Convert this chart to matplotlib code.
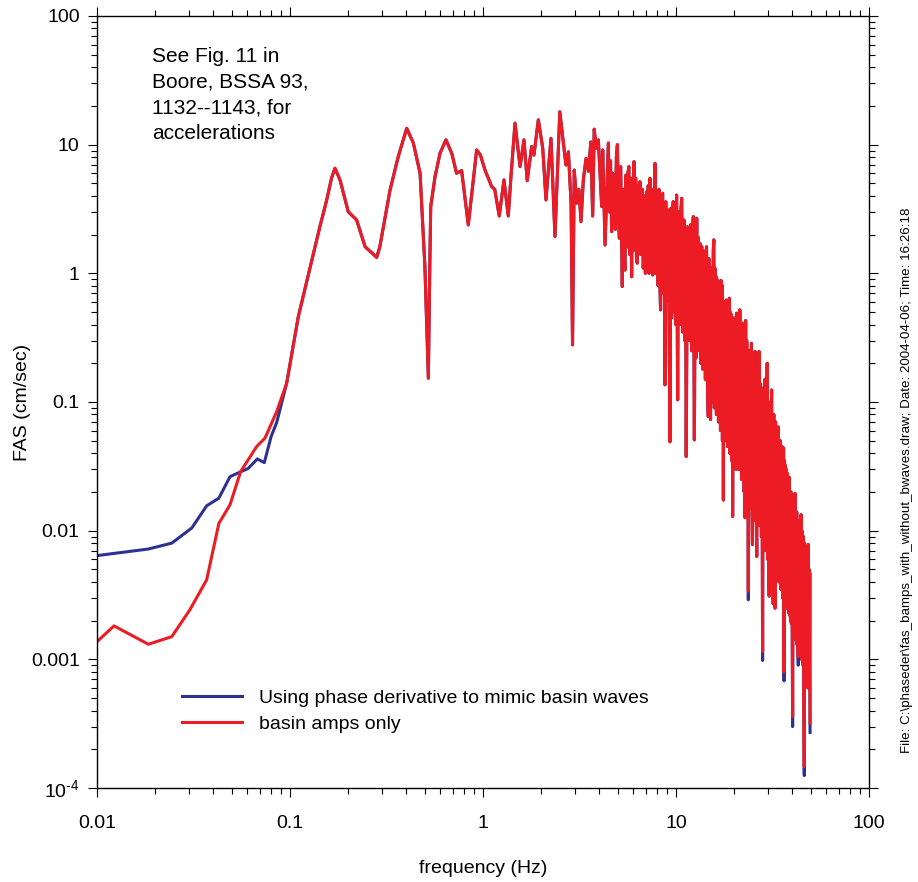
import numpy as np
import matplotlib.pyplot as plt
from matplotlib.ticker import FixedLocator, FixedFormatter, LogLocator, NullFormatter

plt.rcParams['font.family'] = ['Liberation Sans', 'DejaVu Sans']
plt.rcParams['mathtext.fontset'] = 'custom'
plt.rcParams['mathtext.rm'] = 'Liberation Sans'

# low frequencies, where the two spectra differ
blue_low_f = [0.01, 0.01845, 0.0244, 0.031, 0.037, 0.0428, 0.0489, 0.0608, 0.0677, 0.0736, 0.0798, 0.0853]
blue_low_v = [0.0064, 0.0072, 0.0080, 0.0105, 0.0156, 0.0179, 0.0263, 0.0305, 0.0361, 0.0338, 0.0538, 0.0692]
red_low_f = [0.01, 0.01225, 0.01845, 0.0244, 0.0303, 0.037, 0.0428, 0.0489, 0.0555, 0.0672, 0.0742, 0.0853]
red_low_v = [0.00137, 0.00182, 0.00131, 0.00150, 0.00243, 0.00415, 0.0114, 0.0159, 0.0288, 0.0451, 0.0524, 0.0841]

# above ~0.09 Hz both spectra are the same
shared_f = [0.0961, 0.1104, 0.1429, 0.155, 0.164, 0.171, 0.1816, 0.2004, 0.2214, 0.245, 0.2814, 0.292,
            0.330, 0.364, 0.4025, 0.4355, 0.472, 0.500, 0.521, 0.530, 0.536, 0.564, 0.599, 0.643,
            0.690, 0.729, 0.775, 0.839, 0.927, 0.970, 1.024, 1.060, 1.109, 1.150, 1.214, 1.284,
            1.352, 1.400, 1.465, 1.556, 1.630, 1.695, 1.786, 1.836, 1.935, 2.04, 2.12, 2.25,
            2.36, 2.50, 2.69, 2.77, 2.86, 2.91, 2.97, 3.06, 3.14, 3.22, 3.31, 3.42,
            3.52, 3.62, 3.70, 3.77, 3.86, 3.96, 4.12, 4.17, 4.29,
            # 4.5 - 15 Hz
            4.46, 4.52, 4.58, 4.64, 4.70, 4.75, 4.79, 4.85, 4.91, 4.97, 5.03, 5.09,
            5.13, 5.17, 5.22, 5.27, 5.33, 5.38, 5.44, 5.50, 5.56, 5.63, 5.70, 5.76,
            5.82, 5.89, 5.95, 6.00, 6.06, 6.12, 6.18, 6.24, 6.30, 6.37, 6.43, 6.50,
            6.57, 6.64, 6.70, 6.76, 6.82, 6.88, 6.94, 7.04, 7.10, 7.18, 7.25, 7.33,
            7.40, 7.48, 7.57, 7.64, 7.71, 7.78, 7.85, 7.92, 8.00, 8.08, 8.16, 8.24,
            8.32, 8.42, 8.53, 8.60, 8.68, 8.77, 8.85, 8.93, 9.02, 9.12, 9.20, 9.31,
            9.40, 9.49, 9.58, 9.68, 9.77, 9.87, 9.97, 10.07, 10.2, 10.3, 10.45, 10.55,
            10.7, 10.8, 10.9, 11.0, 11.1, 11.2, 11.3, 11.45, 11.6, 11.7, 11.8, 11.95,
            12.05, 12.15, 12.3, 12.45, 12.6, 12.7, 12.8, 12.95, 13.05, 13.2, 13.35, 13.45,
            13.6, 13.75, 13.85, 14.0, 14.1, 14.2, 14.3, 14.4, 14.55, 14.7, 14.8, 14.9,
            15.0,
            # 15 - 50 Hz
            15.1, 15.2, 15.3, 15.4, 15.5, 15.6, 15.7, 15.8, 15.9, 16.0, 16.1, 16.2,
            16.3, 16.4, 16.5, 16.6, 16.7, 16.8, 16.9, 17.0, 17.1, 17.2, 17.3, 17.4,
            17.5, 17.6, 17.7, 17.8, 17.9, 18.0, 18.1, 18.2, 18.3, 18.4, 18.5, 18.6,
            18.75, 18.9, 19.0, 19.1, 19.2, 19.3, 19.45, 19.55, 19.65, 19.8, 19.9, 20.0,
            20.15, 20.3, 20.45, 20.6, 20.75, 20.9, 21.05, 21.2, 21.3, 21.4, 21.55, 21.7,
            21.85, 22.0, 22.1, 22.25, 22.4, 22.55, 22.7, 22.8, 22.95, 23.1, 23.25, 23.4,
            23.55, 23.7, 23.85, 24.0, 24.15, 24.3, 24.45, 24.6, 24.75, 24.9, 25.05, 25.2,
            25.35, 25.5, 25.65, 25.8, 25.95, 26.1, 26.2, 26.35, 26.5, 26.65, 26.8, 26.95,
            27.1, 27.25, 27.4, 27.55, 27.7, 27.85, 28.0, 28.1, 28.25, 28.4, 28.6, 28.75,
            28.9, 29.05, 29.2, 29.35, 29.5, 29.7, 29.85, 30.0, 30.2, 30.4, 30.55, 30.7,
            30.85, 31.0, 31.15, 31.3, 31.45, 31.6, 31.75, 31.9, 32.1, 32.3, 32.45, 32.6,
            32.8, 33.0, 33.2, 33.4, 33.6, 33.9, 34.1, 34.3, 34.5, 34.7, 34.9, 35.1,
            35.3, 35.5, 35.7, 35.9, 36.1, 36.3, 36.5, 36.7, 36.9, 37.1, 37.3, 37.5,
            37.7, 37.9, 38.1, 38.3, 38.6, 38.8, 39.0, 39.2, 39.4, 39.6, 39.8, 40.0,
            40.2, 40.4, 40.6, 40.8, 41.0, 41.2, 41.4, 41.6, 41.8, 42.0, 42.2, 42.4,
            42.6, 42.8, 43.0, 43.2, 43.4, 43.6, 43.8, 44.0, 44.2, 44.5, 44.7, 44.9,
            45.1, 45.3, 45.5, 45.7, 45.9, 46.2, 46.4, 46.6, 46.8, 47.0, 47.2, 47.4,
            47.6, 47.8, 48.0, 48.2, 48.5, 48.7, 48.9, 49.1, 49.3, 49.5]
shared_v = [0.14, 0.46, 2.31, 3.72, 5.48, 6.56, 5.32, 3.01, 2.60, 1.61, 1.33, 1.61,
            4.45, 8.1, 13.4, 10.3, 6.0, 1.13, 0.153, 1.13, 3.3, 5.63, 8.6, 10.9,
            8.5, 6.0, 6.28, 2.38, 9.1, 8.3, 6.35, 5.6, 4.72, 4.5, 2.79, 5.32,
            2.79, 6.0, 14.7, 6.75, 10.9, 5.25, 9.65, 8.3, 15.6, 9.37, 3.72, 11.2,
            1.93, 18.0, 6.95, 8.8, 3.5, 0.278, 6.35, 3.51, 4.5, 2.52, 5.32, 7.83,
            6.2, 10.5, 2.79, 13.2, 9.4, 10.9, 3.30, 9.1, 1.66,
            # 4.5 - 15 Hz
            10.3, 3.0, 7.5, 2.11, 6.0, 2.6, 5.15, 2.2, 8.0, 10.0, 2.8, 1.87,
            6.2, 6.75, 2.0, 0.79, 4.5, 1.5, 1.06, 5.8, 1.6, 6.0, 6.75, 1.4,
            5.5, 0.94, 5.0, 1.5, 7.38, 1.8, 5.5, 1.3, 1.20, 4.8, 1.6, 5.15,
            1.4, 2.60, 4.5, 1.1, 1.27, 4.0, 1.0, 4.31, 1.2, 4.8, 1.0, 5.48,
            1.3, 4.5, 0.97, 4.2, 1.1, 7.16, 1.0, 4.0, 2.60, 0.8, 4.5, 0.9,
            0.52, 3.8, 4.19, 0.7, 3.5, 0.136, 3.6, 0.6, 3.0, 3.11, 0.5, 0.049,
            3.2, 0.45, 3.0, 3.61, 0.5, 3.2, 0.4, 4.06, 0.104, 3.0, 0.4, 2.8,
            3.83, 0.35, 0.435, 2.6, 0.3, 2.2, 0.0377, 2.3, 1.99, 0.3, 0.66, 2.4,
            0.25, 2.0, 2.76, 0.0508, 2.2, 0.22, 2.68, 0.25, 1.9, 0.363, 1.7, 0.2,
            1.61, 0.18, 1.5, 0.20, 1.3, 0.15, 1.4, 1.61, 0.14, 0.077, 1.3, 0.12,
            1.1,
            # 15 - 50 Hz
            0.073, 1.1, 0.10, 1.05, 0.22, 1.5, 1.82, 0.09, 1.1, 0.14, 0.95, 0.08,
            0.9, 0.10, 0.70, 0.07, 0.8, 0.21, 0.85, 0.06, 0.88, 0.07, 0.81, 0.05,
            0.6, 0.0173, 0.55, 0.06, 0.6, 0.05, 0.55, 0.62, 0.05, 0.5, 0.045, 0.42,
            0.05, 0.64, 0.04, 0.5, 0.057, 0.48, 0.035, 0.45, 0.0129, 0.40, 0.035, 0.45,
            0.04, 0.38, 0.03, 0.49, 0.035, 0.40, 0.03, 0.38, 0.04, 0.52, 0.03, 0.36,
            0.025, 0.38, 0.41, 0.025, 0.30, 0.02, 0.32, 0.0126, 0.43, 0.02, 0.30, 0.018,
            0.25, 0.0034, 0.22, 0.018, 0.25, 0.015, 0.20, 0.286, 0.015, 0.0078, 0.18, 0.014,
            0.20, 0.012, 0.247, 0.012, 0.16, 0.011, 0.0063, 0.15, 0.012, 0.18, 0.011, 0.247,
            0.012, 0.14, 0.0355, 0.13, 0.009, 0.12, 0.008, 0.00115, 0.12, 0.008, 0.13, 0.007,
            0.15, 0.008, 0.11, 0.007, 0.12, 0.20, 0.006, 0.10, 0.006, 0.0031, 0.09, 0.006,
            0.10, 0.006, 0.09, 0.124, 0.005, 0.08, 0.005, 0.0027, 0.08, 0.005, 0.07, 0.0025,
            0.07, 0.005, 0.06, 0.0045, 0.05, 0.064, 0.004, 0.05, 0.004, 0.05, 0.0035, 0.045,
            0.0035, 0.045, 0.003, 0.04, 0.044, 0.0008, 0.035, 0.003, 0.032, 0.0028, 0.03, 0.0025,
            0.028, 0.0025, 0.022, 0.0023, 0.026, 0.0022, 0.02, 0.002, 0.02, 0.0019, 0.018, 0.0018,
            0.00036, 0.017, 0.0017, 0.016, 0.0016, 0.015, 0.0195, 0.0015, 0.014, 0.0014, 0.014, 0.0013,
            0.012, 0.0013, 0.00105, 0.012, 0.0012, 0.011, 0.0011, 0.011, 0.0011, 0.0133, 0.001, 0.010,
            0.001, 0.009, 0.0009, 0.009, 0.0009, 0.000147, 0.008, 0.0008, 0.0075, 0.0008, 0.007, 0.0007,
            0.0065, 0.0007, 0.006, 0.0006, 0.0078, 0.0006, 0.005, 0.0006, 0.0047, 0.00032]

# the blue curve reaches a little lower at the deepest notches
blue_tip_f = [23.7, 28.1, 36.3, 40.2, 43.0, 46.2, 49.5]
blue_tip_v = [0.0029, 0.00098, 0.00068, 0.00030, 0.00090, 0.000125, 0.00027]

xticks = [0.01, 0.1, 1, 10, 100]
xtick_labels = ['0.01', '0.1', '1', '10', '100']
yticks = [1e-4, 1e-3, 1e-2, 0.1, 1, 10, 100]
ytick_labels = [r'$\mathregular{10^{\text{-}4}}$', '0.001', '0.01', '0.1', '1', '10', '100']

shared_f = np.array(shared_f)
blue_hi = np.array(shared_v, dtype=float)
for fq, vq in zip(blue_tip_f, blue_tip_v):
    blue_hi[np.isclose(shared_f, fq)] = vq

blue_f = np.concatenate([blue_low_f, shared_f])
blue_v = np.concatenate([blue_low_v, blue_hi])
red_f = np.concatenate([red_low_f, shared_f])
red_v = np.concatenate([red_low_v, shared_v])

fig = plt.figure(figsize=(9.18, 8.82), dpi=100)
ax = fig.add_axes([97 / 918, 1 - 788 / 882, 772 / 918, 772 / 882])

ax.plot(blue_f, blue_v, color='#2E3192', lw=2.2,
        label='Using phase derivative to mimic basin waves')
ax.plot(red_f, red_v, color='#ED1C24', lw=2.2, label='basin amps only')

ax.set_xscale('log')
ax.set_yscale('log')
ax.set_xlim(0.01, 100)
ax.set_ylim(1e-4, 100)

ax.xaxis.set_major_locator(FixedLocator(xticks))
ax.xaxis.set_major_formatter(FixedFormatter(xtick_labels))
ax.yaxis.set_major_locator(FixedLocator(yticks))
ax.yaxis.set_major_formatter(FixedFormatter(ytick_labels))
for axis in (ax.xaxis, ax.yaxis):
    axis.set_minor_locator(LogLocator(base=10, subs=np.arange(2, 10), numticks=20))
    axis.set_minor_formatter(NullFormatter())

for s in ax.spines.values():
    s.set_linewidth(1.0)
ax.tick_params(which='both', direction='out', top=True, right=True, width=0.8, labelsize=14)
ax.tick_params(which='major', length=6.5)
ax.tick_params(which='minor', length=4.3)
ax.tick_params(axis='x', pad=13)
ax.tick_params(axis='y', pad=6)

ax.set_xlabel('frequency (Hz)', fontsize=14, labelpad=20)
ax.set_ylabel('FAS (cm/sec)', fontsize=14)
ax.yaxis.set_label_coords(-0.085, 0.5)

fig.text(152 / 918, 1 - 47 / 882, 'See Fig. 11 in\nBoore, BSSA 93,\n1132--1143, for\naccelerations',
         fontsize=15, ha='left', va='top', linespacing=1.45)

ax.legend(loc='upper left', bbox_to_anchor=(182 / 918, 1 - 689 / 882), bbox_transform=fig.transFigure,
          frameon=False, fontsize=14, handlelength=3.1, handletextpad=0.85, labelspacing=0.45,
          borderpad=0, borderaxespad=0)

fig.text(907 / 918, 1 - 753 / 882,
         r'File: C:\phaseder\fas_bamps_with_without_bwaves.draw; Date: 2004-04-06; Time: 16:26:18',
         rotation=90, ha='center', va='bottom', fontsize=9.6,
         family=['Liberation Sans Narrow', 'Liberation Sans'])

fig.savefig('out.png', dpi=100)
